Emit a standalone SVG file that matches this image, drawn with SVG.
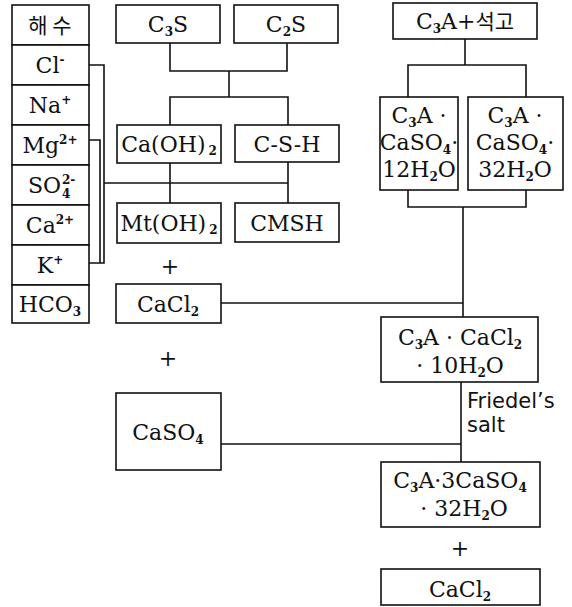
<svg xmlns="http://www.w3.org/2000/svg" width="572" height="607" viewBox="0 0 572 607">
<style>
.b{fill:#fff;stroke:#111;stroke-width:1.6}
.c{fill:none;stroke:#111;stroke-width:1.6}
.t{font-family:"DejaVu Serif","Liberation Serif",serif;font-size:22px;fill:#111;text-anchor:middle}
.ts{text-anchor:start}
.k{font-family:"Noto Sans CJK KR","Noto Sans",sans-serif;font-size:21px}
.s{font-size:12px;font-weight:bold}
.f{font-family:"DejaVu Sans","Liberation Sans",sans-serif;font-size:21px;fill:#111}
</style>
<rect width="572" height="607" fill="#fff"/>
<g id="connectors">
<path class="c" d="M89,65 H104 V263 H89"/>
<path class="c" d="M89,140 H100 V263"/>
<path class="c" d="M104,183 H288"/>
<path class="c" d="M170,43 V71 H287 V43"/>
<path class="c" d="M229,71 V97"/>
<path class="c" d="M170,125 V97 H288 V125"/>
<path class="c" d="M170,163 V203"/>
<path class="c" d="M288,162 V203"/>
<path class="c" d="M221,303 H463"/>
<path class="c" d="M221,444 H461"/>
<path class="c" d="M465,39 V65"/>
<path class="c" d="M408,97 V65 H526 V97"/>
<path class="c" d="M408,190 V207 H526 V190"/>
<path class="c" d="M463,207 V317"/>
<path class="c" d="M461,382 V462"/>
</g>
<g id="seawater">
<rect class="b" x="12" y="5" width="77" height="40"/>
<text class="t k" x="50" y="33">해 수</text>
</g>
<g id="cl">
<rect class="b" x="12" y="45" width="77" height="40"/>
<text class="t" x="50" y="73">Cl<tspan class="s" dy="-9">-</tspan></text>
</g>
<g id="na">
<rect class="b" x="12" y="85" width="77" height="40"/>
<text class="t" x="50" y="113">Na<tspan class="s" dy="-9">+</tspan></text>
</g>
<g id="mg">
<rect class="b" x="12" y="125" width="77" height="40"/>
<text class="t" x="50" y="153">Mg<tspan class="s" dy="-9">2+</tspan></text>
</g>
<g id="so4">
<rect class="b" x="12" y="165" width="77" height="40"/>
<text class="t ts" x="28" y="193">SO<tspan class="s" x="62" y="184">2-</tspan><tspan class="s" x="62" y="198">4</tspan></text>
</g>
<g id="ca">
<rect class="b" x="12" y="205" width="77" height="40"/>
<text class="t" x="50" y="233">Ca<tspan class="s" dy="-9">2+</tspan></text>
</g>
<g id="k">
<rect class="b" x="12" y="245" width="77" height="40"/>
<text class="t" x="50" y="273">K<tspan class="s" dy="-9">+</tspan></text>
</g>
<g id="hco3">
<rect class="b" x="12" y="285" width="77" height="38"/>
<text class="t" x="50" y="312">HCO<tspan class="s" dy="4">3</tspan></text>
</g>
<g id="c3s">
<rect class="b" x="116" y="5" width="104" height="38"/>
<text class="t" x="168" y="32">C<tspan class="s" dy="4">3</tspan><tspan dy="-4">S</tspan></text>
</g>
<g id="c2s">
<rect class="b" x="234" y="5" width="104" height="38"/>
<text class="t" x="286" y="32">C<tspan class="s" dy="4">2</tspan><tspan dy="-4">S</tspan></text>
</g>
<g id="caoh2">
<rect class="b" x="117" y="125" width="104" height="38"/>
<text class="t" x="169" y="152">Ca(OH)<tspan class="s" dx="3" dy="3">2</tspan></text>
</g>
<g id="csh">
<rect class="b" x="235" y="125" width="104" height="37"/>
<text class="t" x="287" y="152">C-S-H</text>
</g>
<g id="mtoh2">
<rect class="b" x="117" y="203" width="104" height="40"/>
<text class="t" x="169" y="231">Mt(OH)<tspan class="s" dx="3" dy="3">2</tspan></text>
</g>
<g id="cmsh">
<rect class="b" x="235" y="203" width="104" height="39"/>
<text class="t" x="287" y="231">CMSH</text>
</g>
<g id="plus1"><text class="t" x="170" y="274">+</text></g>
<g id="cacl2a">
<rect class="b" x="116" y="284" width="105" height="39"/>
<text class="t" x="168" y="312">CaCl<tspan class="s" dy="4">2</tspan></text>
</g>
<g id="plus2"><text class="t" x="168" y="366">+</text></g>
<g id="caso4">
<rect class="b" x="116" y="393" width="105" height="77"/>
<text class="t" x="168" y="440">CaSO<tspan class="s" dy="4">4</tspan></text>
</g>
<g id="c3a-gypsum">
<rect class="b" x="393" y="3" width="144" height="36"/>
<text class="t" x="465" y="29">C<tspan class="s" dy="4">3</tspan><tspan dy="-4">A+</tspan><tspan class="k">석고</tspan></text>
</g>
<g id="c3a-12h2o">
<rect class="b" x="380" y="97" width="78" height="93"/>
<text class="t" x="419" y="123">C<tspan class="s" dy="4">3</tspan><tspan dy="-4">A ·</tspan></text>
<text class="t" x="419" y="150">CaSO<tspan class="s" dy="4">4</tspan><tspan dy="-4">·</tspan></text>
<text class="t" x="419" y="177">12H<tspan class="s" dy="4">2</tspan><tspan dy="-4">O</tspan></text>
</g>
<g id="c3a-32h2o">
<rect class="b" x="468" y="97" width="95" height="93"/>
<text class="t" x="515" y="123">C<tspan class="s" dy="4">3</tspan><tspan dy="-4">A ·</tspan></text>
<text class="t" x="515" y="150">CaSO<tspan class="s" dy="4">4</tspan><tspan dy="-4">·</tspan></text>
<text class="t" x="515" y="177">32H<tspan class="s" dy="4">2</tspan><tspan dy="-4">O</tspan></text>
</g>
<g id="friedel">
<rect class="b" x="381" y="317" width="157" height="65"/>
<text class="t" x="460" y="345">C<tspan class="s" dy="4">3</tspan><tspan dy="-4">A · CaCl</tspan><tspan class="s" dy="4">2</tspan></text>
<text class="t" x="460" y="373">· 10H<tspan class="s" dy="4">2</tspan><tspan dy="-4">O</tspan></text>
</g>
<g id="friedel-label">
<text class="f" x="467" y="408">Friedel’s</text>
<text class="f" x="467" y="432">salt</text>
</g>
<g id="ettringite">
<rect class="b" x="381" y="462" width="159" height="65"/>
<text class="t" x="460" y="488">C<tspan class="s" dy="4">3</tspan><tspan dy="-4">A·3CaSO</tspan><tspan class="s" dy="4">4</tspan></text>
<text class="t" x="464" y="516">· 32H<tspan class="s" dy="4">2</tspan><tspan dy="-4">O</tspan></text>
</g>
<g id="plus3"><text class="t" x="460" y="556">+</text></g>
<g id="cacl2b">
<rect class="b" x="381" y="569" width="159" height="36"/>
<text class="t" x="460" y="597">CaCl<tspan class="s" dy="4">2</tspan></text>
</g>
</svg>
